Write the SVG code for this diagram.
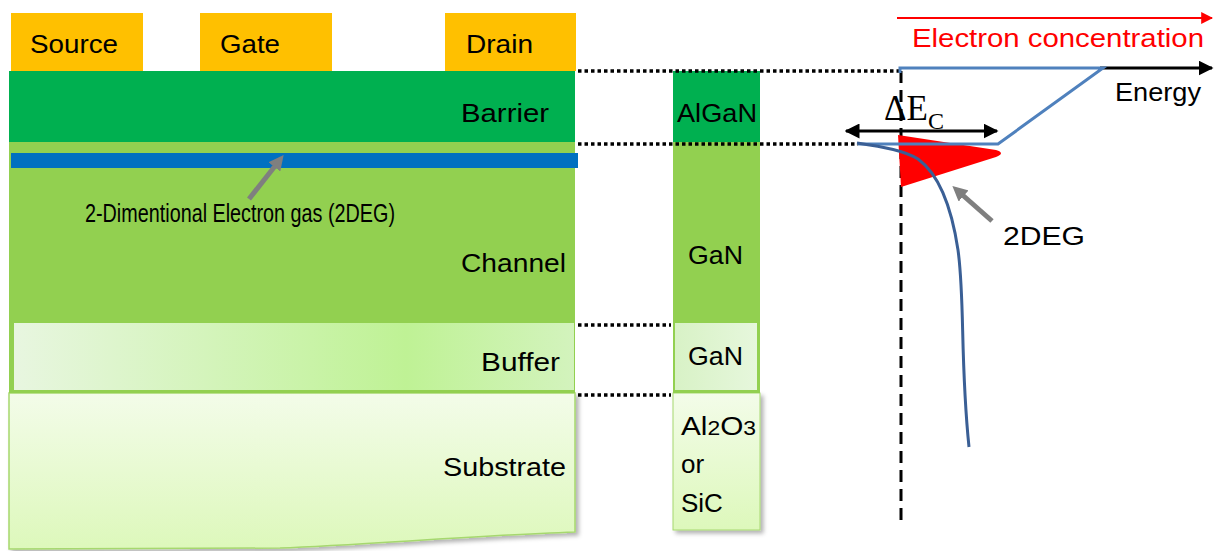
<svg xmlns="http://www.w3.org/2000/svg" width="1215" height="551" viewBox="0 0 1215 551">
<style>
text{font-family:"Liberation Sans",Arial,sans-serif;font-size:26px;fill:#000}
.dot{stroke:#000;stroke-width:3.5;stroke-dasharray:3.5 3;fill:none}
.pad{fill:#ffc000}
</style>
<defs>
<linearGradient id="buf" x1="0" y1="0" x2="1" y2="0">
<stop offset="0" stop-color="#e8f6e0"/>
<stop offset="0.7" stop-color="#bff295"/>
<stop offset="1" stop-color="#d3f3bd"/>
</linearGradient>
<linearGradient id="buf2" x1="0" y1="0" x2="1" y2="0">
<stop offset="0" stop-color="#d8f2c6"/>
<stop offset="1" stop-color="#e6f7dc"/>
</linearGradient>
<linearGradient id="sub" x1="0" y1="0" x2="0" y2="1">
<stop offset="0" stop-color="#f3fce9"/>
<stop offset="1" stop-color="#ddf8bb"/>
</linearGradient>
<filter id="sh" x="-5%" y="-5%" width="115%" height="120%">
<feDropShadow dx="3" dy="3" stdDeviation="2" flood-color="#000" flood-opacity="0.3"/>
</filter>
<marker id="ab" viewBox="0 0 10 10" refX="9" refY="5" markerWidth="5" markerHeight="5" orient="auto-start-reverse" markerUnits="strokeWidth">
<path d="M0,0 L10,5 L0,10 z" fill="#000"/>
</marker>
<marker id="ar" viewBox="0 0 10 10" refX="9" refY="5" markerWidth="6" markerHeight="6" orient="auto" markerUnits="strokeWidth">
<path d="M0,0 L10,5 L0,10 z" fill="#ff0000"/>
</marker>
<marker id="ag" viewBox="0 0 10 10" refX="5" refY="5" markerWidth="3" markerHeight="3" orient="auto" markerUnits="strokeWidth">
<path d="M0,0 L10,5 L0,10 z" fill="#7f7f7f"/>
</marker>
</defs>

<g id="substrate">
<path d="M9,393 H575 V532 C470,536 360,545 280,548 L9,549 Z" fill="url(#sub)" stroke="#a6d86e" stroke-width="1.5" filter="url(#sh)"/>
<text x="443" y="476" textLength="123" lengthAdjust="spacingAndGlyphs">Substrate</text>
</g>
<g id="channel">
<rect x="9" y="142" width="566" height="251" fill="#92d050"/>
<text x="461" y="272" textLength="105" lengthAdjust="spacingAndGlyphs">Channel</text>
<text x="85" y="222" font-size="25" textLength="310" lengthAdjust="spacingAndGlyphs">2-Dimentional Electron gas (2DEG)</text>
</g>
<g id="buffer">
<rect x="14" y="323" width="560" height="67" fill="url(#buf)"/>
<text x="481" y="371" textLength="79" lengthAdjust="spacingAndGlyphs">Buffer</text>
</g>
<g id="barrier">
<rect x="9" y="71" width="566" height="71" fill="#00b050"/>
<text x="461" y="122" textLength="88" lengthAdjust="spacingAndGlyphs">Barrier</text>
</g>
<g id="twodeg">
<rect x="11" y="153" width="567" height="15" fill="#0070c0"/>
</g>
<g id="source"><rect class="pad" x="11" y="13" width="132" height="58"/><text x="30" y="53" textLength="88" lengthAdjust="spacingAndGlyphs">Source</text></g>
<g id="gate"><rect class="pad" x="200" y="13" width="132" height="58"/><text x="220" y="53" textLength="60" lengthAdjust="spacingAndGlyphs">Gate</text></g>
<g id="drain"><rect class="pad" x="445" y="13" width="131" height="58"/><text x="466" y="53" textLength="67" lengthAdjust="spacingAndGlyphs">Drain</text></g>

<g id="col-substrate">
<rect x="673" y="393" width="87" height="137" fill="url(#sub)" stroke="#a6d86e" stroke-width="1" filter="url(#sh)"/>
<text x="681" y="435" textLength="75" lengthAdjust="spacingAndGlyphs">Al<tspan font-size="20">2</tspan>O<tspan font-size="20">3</tspan></text>
<text x="681" y="473">or</text>
<text x="681" y="512">SiC</text>
</g>
<g id="col-gan">
<rect x="673" y="142" width="87" height="251" fill="#92d050"/>
<rect x="675" y="323" width="82" height="67" fill="url(#buf2)"/>
<text x="688" y="264" textLength="55" lengthAdjust="spacingAndGlyphs">GaN</text>
<text x="688" y="365" textLength="55" lengthAdjust="spacingAndGlyphs">GaN</text>
</g>
<g id="col-algan">
<rect x="673" y="71" width="87" height="71" fill="#00b050"/>
<text x="677" y="122" textLength="80" lengthAdjust="spacingAndGlyphs">AlGaN</text>
</g>

<g id="connectors">
<line class="dot" x1="578" y1="71" x2="900" y2="71"/>
<line class="dot" x1="578" y1="144" x2="858" y2="144"/>
<line class="dot" x1="578" y1="325" x2="671" y2="325"/>
<line class="dot" x1="578" y1="395" x2="671" y2="395"/>
<line x1="901" y1="71" x2="901" y2="522" stroke="#000" stroke-width="3" stroke-dasharray="12 7"/>
<line x1="249" y1="199" x2="279" y2="161" stroke="#7f7f7f" stroke-width="5" marker-end="url(#ag)"/>
<line x1="992" y1="221" x2="958" y2="191" stroke="#7f7f7f" stroke-width="5" marker-end="url(#ag)"/>
<line x1="897" y1="18" x2="1212" y2="18" stroke="#ff0000" stroke-width="2" marker-end="url(#ar)"/>
<line x1="1100" y1="68" x2="1212" y2="68" stroke="#000" stroke-width="3" marker-end="url(#ab)"/>
<path d="M898,135 L996,150 Q1006,153 996,157 L901,187 Z" fill="#ff0000"/>
<line x1="846" y1="131" x2="997" y2="131" stroke="#000" stroke-width="3" marker-start="url(#ab)" marker-end="url(#ab)"/>
<path d="M900,73 V68 H1103 L998,144 H858" fill="none" stroke="#4f81bd" stroke-width="3" stroke-linejoin="miter"/>
<path d="M857,143 C885,147 905,151 918,159 C940,175 952,210 958,250 C965,300 960,360 969,447" fill="none" stroke="#3a5f95" stroke-width="3"/>
</g>

<text x="912" y="47" font-size="27" style="fill:#ff0000" textLength="292" lengthAdjust="spacingAndGlyphs">Electron concentration</text>
<text x="1115" y="101" textLength="86" lengthAdjust="spacingAndGlyphs">Energy</text>
<text x="1003" y="245" font-size="29" textLength="82" lengthAdjust="spacingAndGlyphs">2DEG</text>
<text x="884" y="120" style="font-family:'Liberation Serif','Times New Roman',serif;font-size:35px">ΔE<tspan font-size="24" dy="9">C</tspan></text>
</svg>
